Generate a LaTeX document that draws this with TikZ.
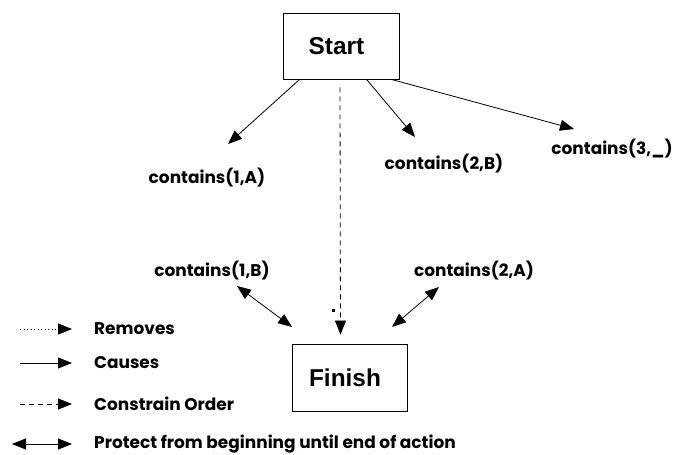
\documentclass[tikz,border=0pt]{standalone}
\usepackage{fontspec}
\setmainfont{Liberation Sans}
\newfontfamily\labfont{Poppins}
\usetikzlibrary{arrows.meta,calc}
\begin{document}
\begin{tikzpicture}[x=1bp,y=-1bp,
  tip/.style={-{Triangle[length=14bp,width=11bp]}},
  both/.style={{Triangle[length=14bp,width=11bp]}-{Triangle[length=14bp,width=11bp]}},
  box/.style={draw, line width=0.9bp, inner sep=0, font=\fontsize{24.5}{28}\selectfont\bfseries},
  lab/.style={inner sep=0, font=\labfont\fontsize{17}{20}\selectfont\bfseries},
  conn/.style={line width=0.8bp},
  dsh/.style={dash pattern=on 5bp off 4bp},
  dtt/.style={dash pattern=on 1bp off 2.5bp}]
\useasboundingbox (0,0) rectangle (679,455);
% boxes
\node[box, minimum width=116bp, minimum height=66bp] (start) at (341,46) {\hspace*{-9bp}Start};
\node[box, minimum width=115bp, minimum height=67bp] (finish) at (349.5,377.5) {\hspace*{-9bp}Finish};
% labels
\node[lab] (c1a) at (207,178) {contains(1,A)};
\node[lab] (c2b) at (444,164) {contains(2,B)};
\node[lab] (c3) at (612,149) {contains(3,\_)};
\node[lab] (c1b) at (212,271) {contains(1,B)};
\node[lab] (c2a) at (474,271) {contains(2,A)};
% free ends
\coordinate (t1) at (228,144);
\coordinate (t2) at (415,137);
\coordinate (t3) at (574,129);
\coordinate (b1) at (237,286);
\coordinate (f1) at (292,327);
\coordinate (b2) at (439,287);
\coordinate (f2) at (392,327);
% causes from start
\draw[conn,tip] ($(start.south west)+(17,0)$) -- (t1);
\draw[conn,tip] ($(start.south west)+(84,0)$) -- (t2);
\draw[conn,tip] ($(start.south west)+(109,0)$) -- (t3);
% constrain order
\draw[conn,dsh,tip] ($(start.south)+(-1,8)$) -- ($(finish.north)+(-9,-9)$);
\fill ($(finish.north)+(-18,-34.5)$) rectangle +(3,3);
% protect
\draw[conn,both] (b1) -- (f1);
\draw[conn,both] (b2) -- (f2);
% legend
\node[lab, anchor=west] (lrem) at (94,329) {Removes};
\node[lab, anchor=west] (lcau) at (94,363) {Causes};
\node[lab, anchor=west] (lcon) at (94,404) {Constrain Order};
\node[lab, anchor=west] (lpro) at (94,444) {Protect from beginning until end of action};
\draw[conn,dtt,tip] ($(lrem.west)+(-74,0)$) -- ($(lrem.west)+(-22,0)$);
\draw[conn,tip] ($(lcau.west)+(-74,0)$) -- ($(lcau.west)+(-22,0)$);
\draw[conn,dsh,tip] ($(lcon.west)+(-74,0)$) -- ($(lcon.west)+(-22,0)$);
\draw[conn,both] ($(lpro.west)+(-82,0)$) -- ($(lpro.west)+(-22,0)$);
\end{tikzpicture}
\end{document}
